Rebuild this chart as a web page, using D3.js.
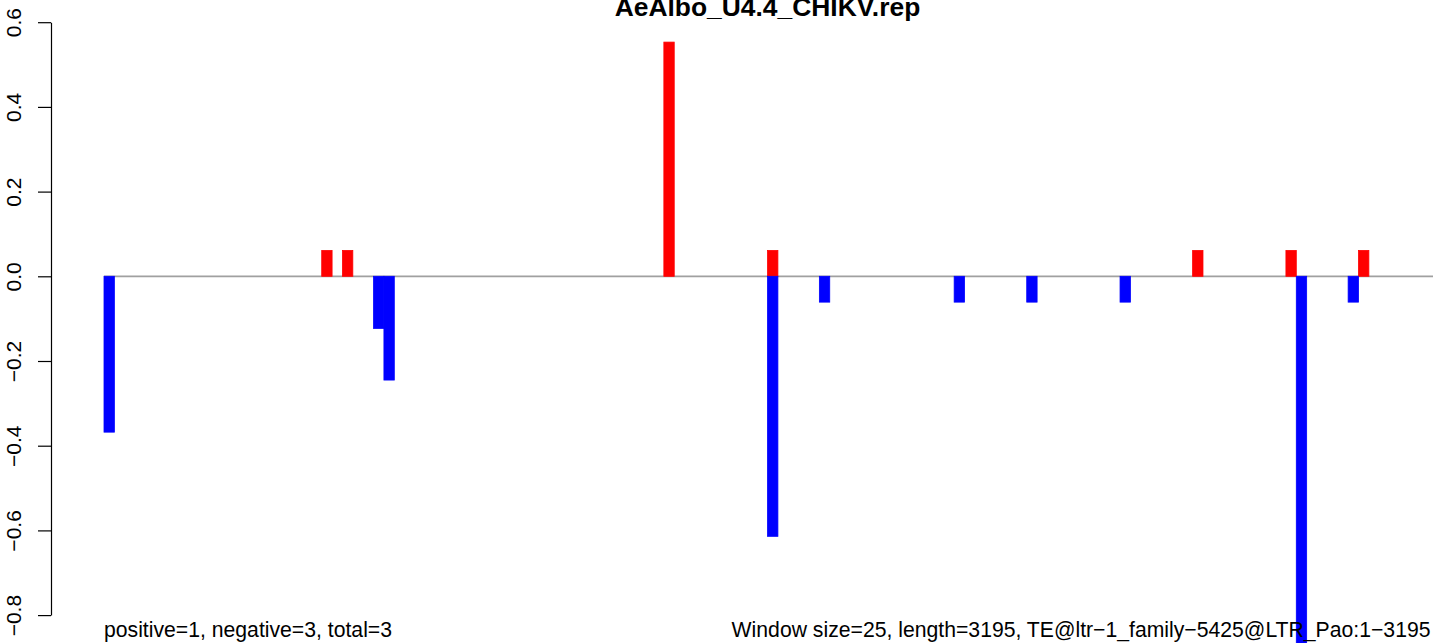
<!DOCTYPE html>
<html>
<head>
<meta charset="utf-8">
<script src="https://cdn.jsdelivr.net/npm/d3@7"></script>
<style>
  html, body { margin: 0; padding: 0; background: #fff; overflow: hidden; }
  svg { display: block; font-family: "Liberation Sans", Arial, Helvetica, sans-serif; }
</style>
</head>
<body>
<svg id="chart" width="1433" height="643"></svg>
<script>
// ---- data ----
const titleText = "AeAlbo_U4.4_CHIKV.rep";
const windowSize = 25;
const seqLength = 3195;
// window index (start = index * windowSize) for positive (red) bars
const posWindows = [21, 23, 54, 64, 105, 114, 121];
const posValues  = [0.061, 0.061, 0.553, 0.061, 0.061, 0.061, 0.061];
// window index for negative (blue) bars
const negWindows = [0, 26, 27, 64, 69, 82, 89, 98, 115, 120];
const negValues  = [-0.368, -0.123, -0.245, -0.614, -0.061, -0.061, -0.061, -0.061, -0.92, -0.061];
const yTicks = [-0.8, -0.6, -0.4, -0.2, 0.0, 0.2, 0.4, 0.6];
const yTickLabels = ["\u22120.8", "\u22120.6", "\u22120.4", "\u22120.2", "0.0", "0.2", "0.4", "0.6"];
const leftNote = "positive=1, negative=3, total=3";
const rightNote = "Window size=25, length=3195, TE@ltr\u22121_family\u22125425@LTR_Pao:1\u22123195";

// ---- layout ----
const svg = d3.select("#chart");
const pad = seqLength * 0.04;
const x = d3.scaleLinear().domain([-pad, seqLength + pad]).range([51, 1482]);
const y = d3.scaleLinear().domain([-0.8, 0.6]).range([615.1, 22.2]);

// zero line
svg.append("line")
  .attr("x1", x(0)).attr("x2", x(seqLength + pad))
  .attr("y1", y(0)).attr("y2", y(0))
  .attr("stroke", "#a0a0a0").attr("stroke-width", 1.8);

function drawBars(wins, vals, color) {
  const data = wins.map((w, i) => ({ start: w * windowSize, v: vals[i] }));
  svg.append("g").selectAll("rect").data(data).join("rect")
    .attr("x", d => x(d.start))
    .attr("width", d => x(d.start + windowSize) - x(d.start))
    .attr("y", d => Math.min(y(0), y(d.v)))
    .attr("height", d => Math.abs(y(d.v) - y(0)))
    .attr("fill", color)
    .attr("stroke", color)
    .attr("stroke-width", 0.8);
}
drawBars(posWindows, posValues, "#ff0000");
drawBars(negWindows, negValues, "#0000ff");

// y axis
const axis = d3.axisLeft(y)
  .tickValues(yTicks)
  .tickSize(13)
  .tickSizeOuter(0)
  .tickFormat((d, i) => yTickLabels[i]);
const ga = svg.append("g").attr("transform", `translate(${x(-pad)},0)`).call(axis);
ga.select(".domain").attr("stroke", "#000").attr("stroke-width", 1.2);
ga.selectAll(".tick line").attr("stroke", "#000").attr("stroke-width", 1.2);
ga.selectAll(".tick text")
  .attr("transform", "rotate(-90)")
  .attr("x", 0).attr("y", -30).attr("dy", 0)
  .attr("text-anchor", "middle")
  .attr("fill", "#000")
  .style("font-size", "21px")
  .style("font-family", "'Liberation Sans', Arial, Helvetica, sans-serif");

// title
svg.append("text")
  .attr("x", (x.range()[0] + x.range()[1]) / 2 + 1)
  .attr("y", 16)
  .attr("text-anchor", "middle")
  .style("font-size", "26.4px")
  .style("font-weight", "bold")
  .text(titleText);

// bottom notes
svg.append("text")
  .attr("x", x(0)).attr("y", 637)
  .attr("text-anchor", "start")
  .style("font-size", "21.2px")
  .text(leftNote);
svg.append("text")
  .attr("x", x(seqLength) + 1.5).attr("y", 637)
  .attr("text-anchor", "end")
  .style("font-size", "21.2px")
  .text(rightNote);
</script>
</body>
</html>
